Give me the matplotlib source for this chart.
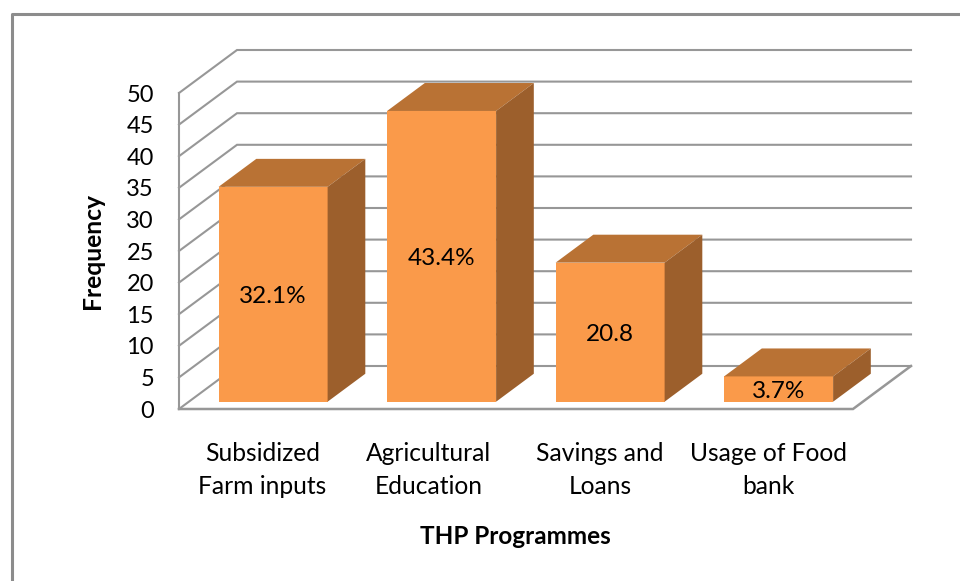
import matplotlib
matplotlib.use("Agg")
import matplotlib.pyplot as plt
from matplotlib.patches import Polygon
from matplotlib.lines import Line2D

categories = ["Subsidized\nFarm inputs", "Agricultural\nEducation", "Savings and\nLoans", "Usage of Food\nbank"]
frequency = [34, 46, 22, 4]
bar_labels = ["32.1%", "43.4%", "20.8", "3.7%"]
y_ticks = [0, 5, 10, 15, 20, 25, 30, 35, 40, 45, 50]

W, H = 960, 581
plt.rcParams['font.family'] = ['Lato', 'DejaVu Sans']
fig = plt.figure(figsize=(W/100, H/100), dpi=100)
L, R, T, B = 179, 853, 93, 409
ax = fig.add_axes([L/W, 1-B/H, (R-L)/W, (B-T)/H])
ax.set_xlim(0, 4)
ax.set_ylim(0, 50)
ax.patch.set_visible(False)
for s in ax.spines.values():
    s.set_visible(False)

px_x = 4/(R-L)
px_y = 50/(B-T)
DX = 58*px_x
DY = 43*px_y
GRID = '#979797'
LW = 1.5

for v in y_ticks:
    ax.plot([0, DX, 4+DX], [v, v+DY, v+DY], color=GRID, lw=LW, clip_on=False, zorder=1,
            solid_joinstyle='miter')
ax.plot([0, 0], [0, 50], color=GRID, lw=LW, clip_on=False, zorder=1)
ax.plot([0, 4, 4+DX], [0, 0, DY], color=GRID, lw=LW+0.3, clip_on=False, zorder=1,
        solid_joinstyle='miter')

FRONT, TOP, SIDE = '#FA9A4A', '#B97234', '#9C5F2C'
BW = 109*px_x
D0, D1 = 0.17, 0.82
for i, (v, lab) in enumerate(zip(frequency, bar_labels)):
    x0 = i + 0.5 - BW/2 + D0*DX
    x1 = x0 + BW
    y0 = D0*DY
    y1 = y0 + v
    ddx = (D1-D0)*DX
    ddy = (D1-D0)*DY
    ax.add_patch(Polygon([(x0, y0), (x1, y0), (x1, y1), (x0, y1)], fc=FRONT, ec='none', clip_on=False, zorder=3))
    ax.add_patch(Polygon([(x0, y1), (x1, y1), (x1+ddx, y1+ddy), (x0+ddx, y1+ddy)], fc=TOP, ec='none', clip_on=False, zorder=3))
    ax.add_patch(Polygon([(x1, y0), (x1+ddx, y0+ddy), (x1+ddx, y1+ddy), (x1, y1)], fc=SIDE, ec='none', clip_on=False, zorder=3))
    ax.annotate(lab, ((x0+x1)/2, (y0+y1)/2), xytext=(0, -2), textcoords='offset pixels',
                ha='center', va='center', fontsize=17.5, color='black', zorder=4)

ax.set_yticks(y_ticks)
ax.set_yticklabels([str(v) for v in y_ticks], fontsize=17)
ax.set_xticks([0.495, 1.48, 2.5, 3.5])
ax.set_xticklabels(categories, fontsize=17.7, linespacing=1.5)
ax.tick_params(axis='both', length=0)
ax.tick_params(axis='y', pad=18)
ax.tick_params(axis='x', pad=24)
fig.text(92/W, 1-251/H, "Frequency", rotation=90, ha='center', va='center', fontsize=17.7, fontweight='bold')
fig.text(515/W, 1-537/H, "THP Programmes", ha='center', va='center', fontsize=17.5, fontweight='bold')

fig.add_artist(Line2D([12/W, 12/W, 1], [0, 1-14/H, 1-14/H], color='#8c8c8c', lw=2.2, transform=fig.transFigure))
fig.savefig("out.png", dpi=100, facecolor='white')
